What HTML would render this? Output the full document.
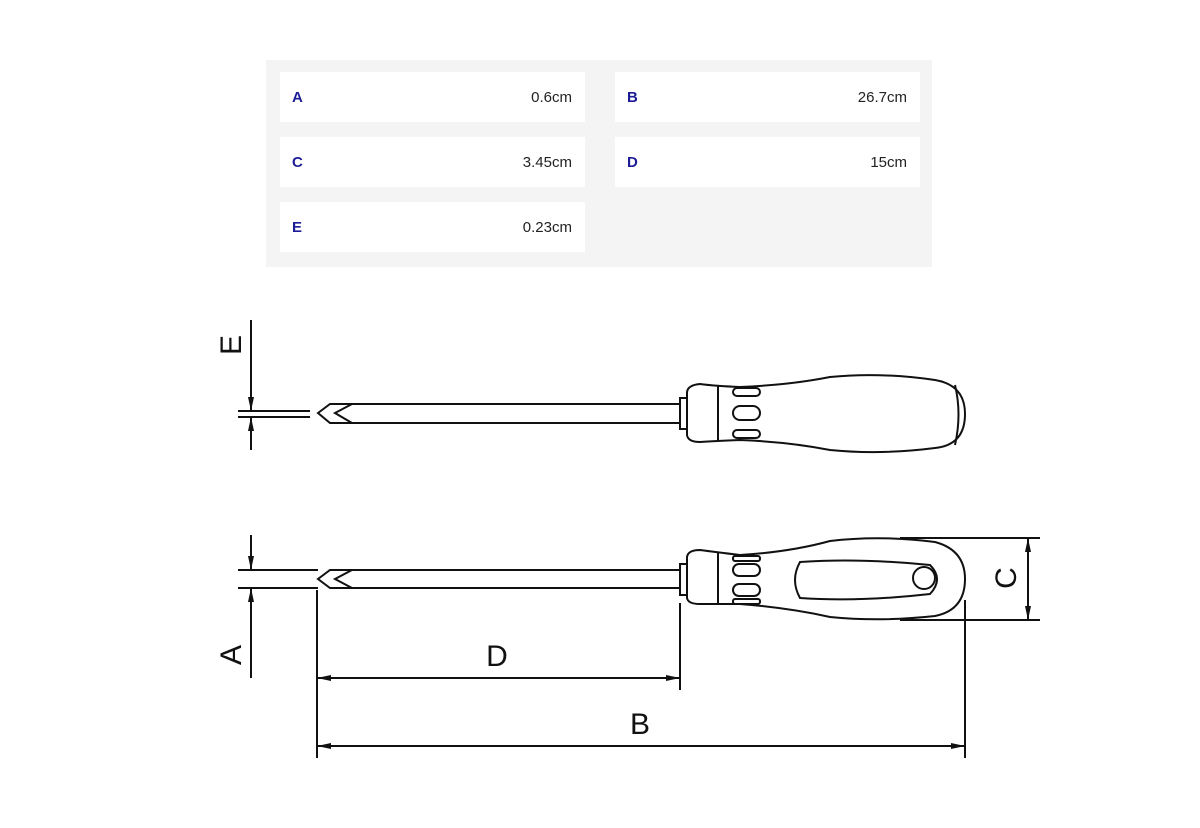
<!DOCTYPE html>
<html><head><meta charset="utf-8"><style>
body{margin:0;width:1200px;height:823px;background:#fff;overflow:hidden;font-family:"Liberation Sans",sans-serif}
</style></head><body>
<svg width="1200" height="823" viewBox="0 0 1200 823" xmlns="http://www.w3.org/2000/svg">
<defs>
<marker id="ar" markerWidth="14" markerHeight="8" refX="14" refY="4" orient="auto" markerUnits="userSpaceOnUse"><path d="M0,1 L14,4 L0,7 Z" fill="#111"/></marker>
</defs>
<rect x="266" y="60" width="666" height="207" fill="#f4f4f4"/>
<g fill="#fff">
<rect x="280" y="72" width="305" height="50"/><rect x="615" y="72" width="305" height="50"/>
<rect x="280" y="137" width="305" height="50"/><rect x="615" y="137" width="305" height="50"/>
<rect x="280" y="202" width="305" height="50"/>
</g>
<g font-size="15" font-weight="bold" fill="#1c1c96">
<text x="292" y="102">A</text><text x="627" y="102">B</text>
<text x="292" y="167">C</text><text x="627" y="167">D</text>
<text x="292" y="232">E</text>
</g>
<g font-size="15" fill="#222" text-anchor="end">
<text x="572" y="102">0.6cm</text><text x="907" y="102">26.7cm</text>
<text x="572" y="167">3.45cm</text><text x="907" y="167">15cm</text>
<text x="572" y="232">0.23cm</text>
</g>
<g stroke="#111" stroke-width="2" fill="none">
<!-- top screwdriver -->
<line x1="350" y1="404" x2="680" y2="404"/><line x1="350" y1="423" x2="680" y2="423"/>
<path d="M352,404 L330,404 L318,413 L330,423 L352,423 M352,404 L335,413 L352,423"/>
<rect x="680" y="398" width="7" height="31"/>
<path d="M687,392 Q688,385 700,384 Q715,386 740,387 Q790,385 830,377 Q880,372 935,380 Q965,385 965,414 Q965,445 935,448 Q880,455 830,450 Q790,442 740,440 Q715,441 700,442 Q688,442 687,435 Z"/>
<line x1="718" y1="386" x2="718" y2="441"/>
<rect x="733" y="388" width="27" height="8" rx="4"/>
<rect x="733" y="406" width="27" height="14" rx="7"/>
<rect x="733" y="430" width="27" height="8" rx="4"/>
<path d="M955,385 Q962,414 955,445"/>
<!-- E dim -->
<line x1="238" y1="411" x2="310" y2="411"/><line x1="238" y1="417" x2="310" y2="417"/>
<line x1="251" y1="320" x2="251" y2="411" marker-end="url(#ar)"/>
<line x1="251" y1="450" x2="251" y2="417" marker-end="url(#ar)"/>
<!-- bottom screwdriver -->
<line x1="350" y1="570" x2="680" y2="570"/><line x1="350" y1="588" x2="680" y2="588"/>
<path d="M352,570 L330,570 L318,579 L330,588 L352,588 M352,570 L335,579 L352,588"/>
<rect x="680" y="564" width="7" height="31"/>
<path d="M687,557 Q688,550 700,550 Q715,552 740,555 Q790,552 830,541 Q880,535 935,542 Q965,550 965,579 Q965,610 935,616 Q880,622 830,617 Q790,608 740,604 Q715,604 700,604 Q688,604 687,598 Z"/>
<line x1="718" y1="552" x2="718" y2="604"/>
<rect x="733" y="556" width="27" height="5" rx="2"/>
<rect x="733" y="564" width="27" height="12" rx="6"/>
<rect x="733" y="584" width="27" height="12" rx="6"/>
<rect x="733" y="599" width="27" height="5" rx="2"/>
<path d="M800,562 Q860,558 930,565 Q944,579 930,594 Q860,602 800,598 Q790,580 800,562 Z"/>
<circle cx="924" cy="578" r="11"/>
<!-- A dim -->
<line x1="238" y1="570" x2="318" y2="570"/><line x1="238" y1="588" x2="318" y2="588"/>
<line x1="251" y1="535" x2="251" y2="570" marker-end="url(#ar)"/>
<line x1="251" y1="678" x2="251" y2="588" marker-end="url(#ar)"/>
<!-- C dim -->
<line x1="900" y1="538" x2="1040" y2="538"/><line x1="900" y1="620" x2="1040" y2="620"/>
<line x1="1028" y1="579" x2="1028" y2="538" marker-end="url(#ar)"/>
<line x1="1028" y1="579" x2="1028" y2="620" marker-end="url(#ar)"/>
<!-- D, B dims -->
<line x1="317" y1="590" x2="317" y2="758"/>
<line x1="680" y1="603" x2="680" y2="690"/>
<line x1="965" y1="600" x2="965" y2="758"/>
<line x1="498" y1="678" x2="317" y2="678" marker-end="url(#ar)"/>
<line x1="498" y1="678" x2="680" y2="678" marker-end="url(#ar)"/>
<line x1="640" y1="746" x2="317" y2="746" marker-end="url(#ar)"/>
<line x1="640" y1="746" x2="965" y2="746" marker-end="url(#ar)"/>
</g>
<g font-size="30" fill="#111" text-anchor="middle">
<text x="497" y="666">D</text>
<text x="640" y="734">B</text>
<text transform="translate(241,345) rotate(-90)">E</text>
<text transform="translate(241,655) rotate(-90)">A</text>
<text transform="translate(1016,578) rotate(-90)">C</text>
</g>
</svg>
</body></html>
